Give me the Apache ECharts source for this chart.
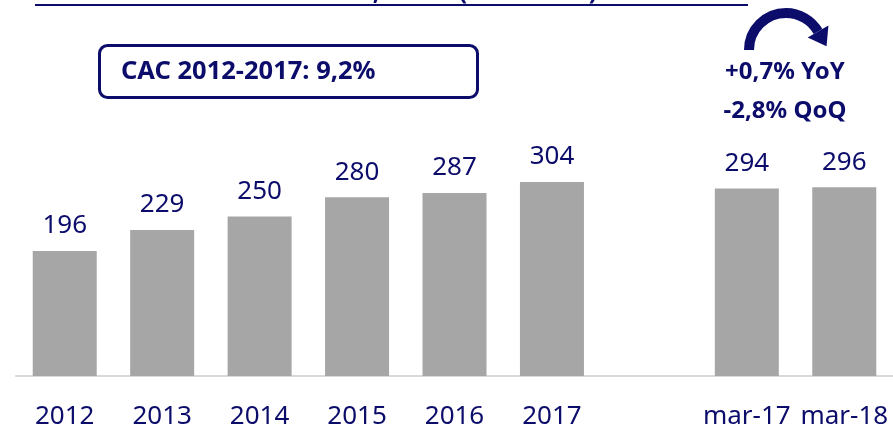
<!DOCTYPE html>
<html>
<head>
<meta charset="utf-8">
<script src="https://cdn.jsdelivr.net/npm/echarts@6/dist/echarts.min.js"></script>
<style>
  html, body { margin: 0; padding: 0; background: #fff; }
  #main { width: 893px; height: 430px; }
</style>
</head>
<body>
<div id="main"></div>
<script>
// categories (empty slot separates the yearly bars from the quarterly ones)
var categories = ['2012', '2013', '2014', '2015', '2016', '2017', '', 'mar-17', 'mar-18'];
var balances = [196, 229, 250, 280, 287, 304, null, 294, 296];

var cacText = 'CAC 2012-2017: 9,2%';
var yoyText = '+0,7% YoY';
var qoqText = '-2,8% QoQ';
var titleText = 'Saldo de crédito al consumo, bruto (€ millones)';

var navy = '#0c0c6b';
var labelFont = '"Noto Sans", sans-serif';
var boldFont = '"Noto Sans", sans-serif';

var myChart = echarts.init(document.getElementById('main'));

// arrow geometry (arc from left to upper-right, then the head)
var ax = 786, ay = 50, ar = 37;
var endAng = -Math.PI / 6;
var ex = ax + ar * Math.cos(endAng), ey = ay + ar * Math.sin(endAng);
var dx = Math.sin(-endAng), dy = Math.cos(-endAng);

var option = {
    animation: false,
    grid: { left: 16, width: 880, top: 57, bottom: 52 },
    xAxis: {
        type: 'category',
        data: categories,
        axisLine: { lineStyle: { color: '#d9d9d9', width: 2 } },
        axisTick: { show: false },
        axisLabel: {
            color: navy,
            fontSize: 26,
            fontFamily: labelFont,
            margin: 28,
            interval: 0
        }
    },
    yAxis: {
        type: 'value',
        min: 0,
        max: 500,
        show: false,
        splitLine: { show: false }
    },
    series: [{
        type: 'bar',
        data: balances,
        barWidth: 64,
        itemStyle: { color: '#a6a6a6' },
        label: {
            show: true,
            position: 'top',
            distance: 12,
            color: navy,
            fontSize: 26,
            fontFamily: labelFont
        }
    }],
    graphic: [
        {
            type: 'text',
            left: 38,
            top: -19,
            style: {
                text: titleText,
                fill: navy,
                font: 'bold 24px ' + boldFont
            }
        },
        {
            type: 'line',
            shape: { x1: 35, y1: 5, x2: 748, y2: 5 },
            style: { stroke: navy, lineWidth: 2 }
        },
        {
            type: 'rect',
            shape: { x: 99.5, y: 45.5, width: 378, height: 52, r: 8 },
            style: { fill: '#fff', stroke: navy, lineWidth: 3 }
        },
        {
            type: 'text',
            x: 121,
            y: 72,
            style: {
                text: cacText,
                fill: navy,
                font: 'bold 25.5px ' + boldFont,
                verticalAlign: 'middle'
            }
        },
        {
            type: 'arc',
            shape: { cx: ax, cy: ay, r: ar, startAngle: Math.PI, endAngle: 2 * Math.PI + endAng, clockwise: true },
            style: { stroke: navy, lineWidth: 10, fill: null }
        },
        {
            type: 'polygon',
            shape: {
                points: [
                    [ex + 17 * dx, ey + 17 * dy],
                    [ex + 12 * dy, ey - 12 * dx],
                    [ex - 12 * dy, ey + 12 * dx]
                ]
            },
            style: { fill: navy }
        },
        {
            type: 'text',
            x: 785,
            y: 72,
            style: {
                text: yoyText,
                fill: navy,
                font: 'bold 24px ' + boldFont,
                align: 'center',
                verticalAlign: 'middle'
            }
        },
        {
            type: 'text',
            x: 785,
            y: 111,
            style: {
                text: qoqText,
                fill: navy,
                font: 'bold 24px ' + boldFont,
                align: 'center',
                verticalAlign: 'middle'
            }
        }
    ]
};

myChart.setOption(option);
</script>
</body>
</html>
